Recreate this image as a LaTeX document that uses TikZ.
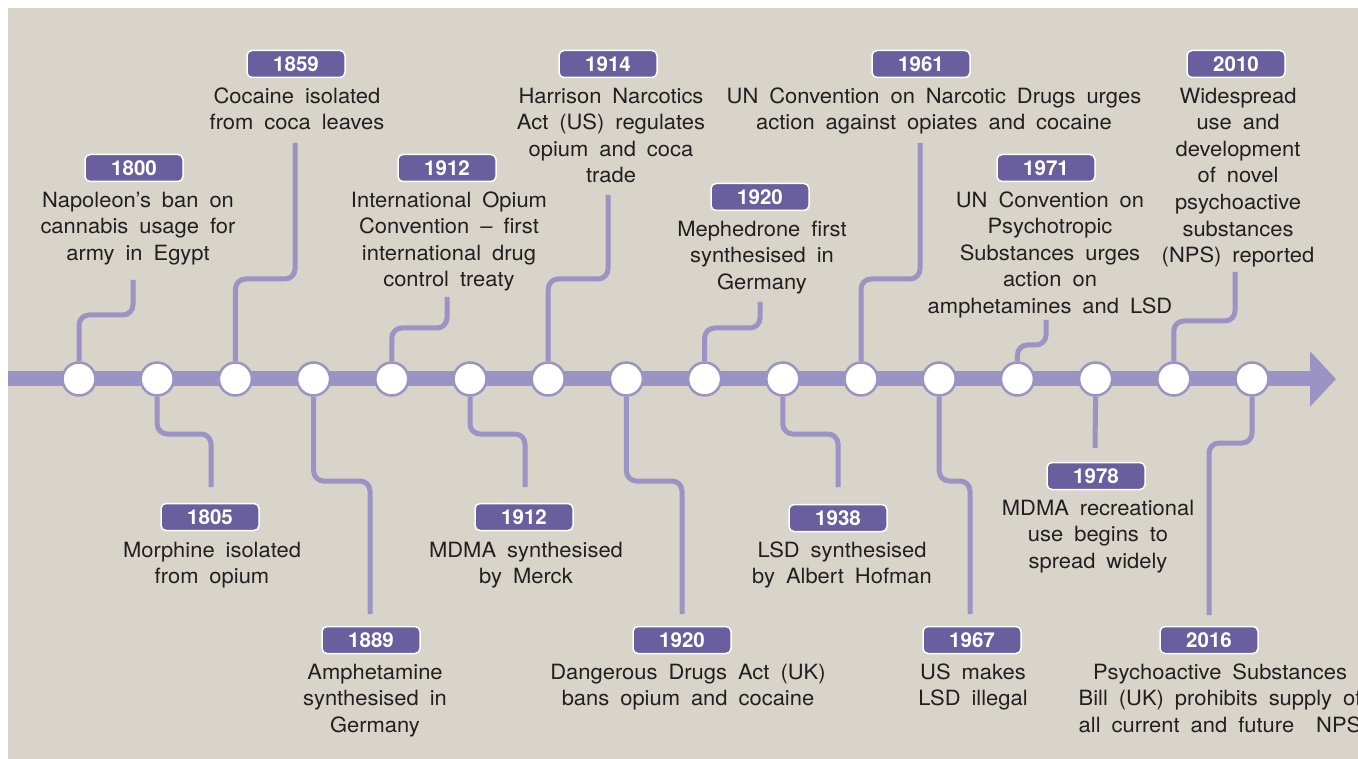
\documentclass[tikz,border=0pt]{standalone}
\usepackage{fontspec}
\setmainfont{TeX Gyre Heros}[WordSpace=1.8]
\newfontfamily\bodyfont{TeX Gyre Heros}[WordSpace=1.8, FakeStretch=1.045]
\usetikzlibrary{arrows.meta}
\definecolor{bg}{RGB}{216,212,202}
\definecolor{lp}{RGB}{155,147,196}
\definecolor{dp}{RGB}{106,95,158}
\definecolor{tx}{RGB}{35,31,32}
\tikzset{
  dot/.style={circle, fill=white, draw=lp, line width=2.5pt, minimum size=33pt, inner sep=0pt},
  conn/.style={draw=lp, line width=5pt, rounded corners=10pt},
  badge/.style={fill=dp, draw=white, line width=1.5pt, rounded corners=5pt, minimum width=98pt, minimum height=27pt, inner sep=0pt, text=white, font=\fontsize{20.5}{24}\selectfont\bfseries},
  txt/.style={align=center, inner sep=0pt, anchor=north, yshift=18.62pt, text=tx, font=\bodyfont\fontsize{21}{26.6}\selectfont},
}
\begin{document}
\begin{tikzpicture}[x=1pt,y=-1pt]
\useasboundingbox (0,0) rectangle (1358,759);
\fill[white] (0,0) rectangle (1358,759);
\fill[bg] (8,8) rectangle (1358,759);
% main line
\coordinate (ls) at (8,379);
\coordinate (tip) at (1336,379);
\draw[lp, line width=15pt, -{Triangle[width=54pt,length=26pt]}] (ls) -- (tip);
% circles
\foreach \i in {1,...,16} \node[dot] (c\i) at ({79+(\i-1)*78.2},379) {};
% connector coordinates (top)
\coordinate (m1) at (133,315);  \coordinate (e1) at (133,280);
\coordinate (m3) at (295,279);  \coordinate (e3) at (295,143);
\coordinate (m5) at (447,328);  \coordinate (e5) at (447,297);
\coordinate (m7) at (608,279);  \coordinate (e7) at (608,195);
\coordinate (m9) at (760,328);  \coordinate (e9) at (760,302);
\coordinate (m11) at (920,279); \coordinate (e11) at (920,143);
\coordinate (m13) at (1046,345);\coordinate (e13) at (1046,320);
\coordinate (m15) at (1235,321);\coordinate (e15) at (1235,272);
% connector coordinates (bottom)
\coordinate (m2) at (211,434);  \coordinate (e2) at (211,487);
\coordinate (m4) at (370,481);  \coordinate (e4) at (370,614);
\coordinate (m6) at (525,434);  \coordinate (e6) at (525,487);
\coordinate (m8) at (682,481);  \coordinate (e8) at (682,614);
\coordinate (m10) at (838,434); \coordinate (e10) at (838,487);
\coordinate (m12) at (970,481); \coordinate (e12) at (970,614);
\coordinate (e14) at (1095,448);
\coordinate (m16) at (1209,443);\coordinate (e16) at (1209,615);
\foreach \i in {1,3,5,7,9,11,13,15} \draw[conn] (c\i.north) |- (m\i) -- (e\i);
\foreach \i in {2,4,6,8,10,12,16} \draw[conn] (c\i.south) |- (m\i) -- (e\i);
\draw[conn] (c14.south) -- (e14);
% badges top
\node[badge] (y1800) at (134,168) {1800};
\node[badge] (y1859) at (296,64) {1859};
\node[badge] (y1912) at (447,168) {1912};
\node[badge] (y1914) at (608,64) {1914};
\node[badge] (y1920) at (760,197) {1920};
\node[badge] (y1961) at (921,64) {1961};
\node[badge] (y1971) at (1046,168) {1971};
\node[badge] (y2010) at (1236,64) {2010};
% badges bottom
\node[badge] (y1805) at (210,517) {1805};
\node[badge] (y1889) at (371,640) {1889};
\node[badge] (y1912b) at (524,517) {1912};
\node[badge] (y1920b) at (682,640) {1920};
\node[badge] (y1938) at (838,518) {1938};
\node[badge] (y1967) at (972,640) {1967};
\node[badge] (y1978) at (1096,476) {1978};
\node[badge] (y2016) at (1209,640) {2016};
% texts top
\node[txt] (t1800) at (138,207) {\strut Napoleon’s ban on\\cannabis usage for\\army in Egypt};
\node[txt] (t1859) at (297,103) {\strut Cocaine isolated\\from coca leaves};
\node[txt] (t1912) at (449,207) {\strut International Opium\\Convention – first\\international drug\\control treaty};
\node[txt] (t1914) at (611,103) {\strut Harrison Narcotics\\Act (US) regulates\\opium and coca\\trade};
\node[txt] (t1920) at (762,236) {\strut Mephedrone first\\synthesised in\\Germany};
\node[txt] (t1961) at (934,103) {\strut UN Convention on Narcotic Drugs urges\\action against opiates and cocaine};
\node[txt] (t1971) at (1050,207) {\strut UN Convention on\\Psychotropic\\Substances urges\\action on\\amphetamines and LSD};
\node[txt] (t2010) at (1238,103) {\strut Widespread\\use and\\development\\of novel\\psychoactive\\substances\\(NPS) reported};
% texts bottom
\node[txt] (t1805) at (212,557) {\strut Morphine isolated\\from opium};
\node[txt] (t1889) at (375,679) {\strut Amphetamine\\synthesised in\\Germany};
\node[txt] (t1912b) at (526,557) {\strut MDMA synthesised\\by Merck};
\node[txt] (t1920b) at (688,679) {\strut Dangerous Drugs Act (UK)\\bans opium and cocaine};
\node[txt] (t1938) at (842,557) {\strut LSD synthesised\\by Albert Hofman};
\node[txt] (t1967) at (973,679) {\strut US makes\\LSD illegal};
\node[txt] (t1978) at (1098,515) {\strut MDMA recreational\\use begins to\\spread widely};
\node[txt] (t2016) at (1220,679) {\strut Psychoactive Substances\\Bill (UK) prohibits supply of\\all current and future~~NPS};
\end{tikzpicture}
\end{document}
